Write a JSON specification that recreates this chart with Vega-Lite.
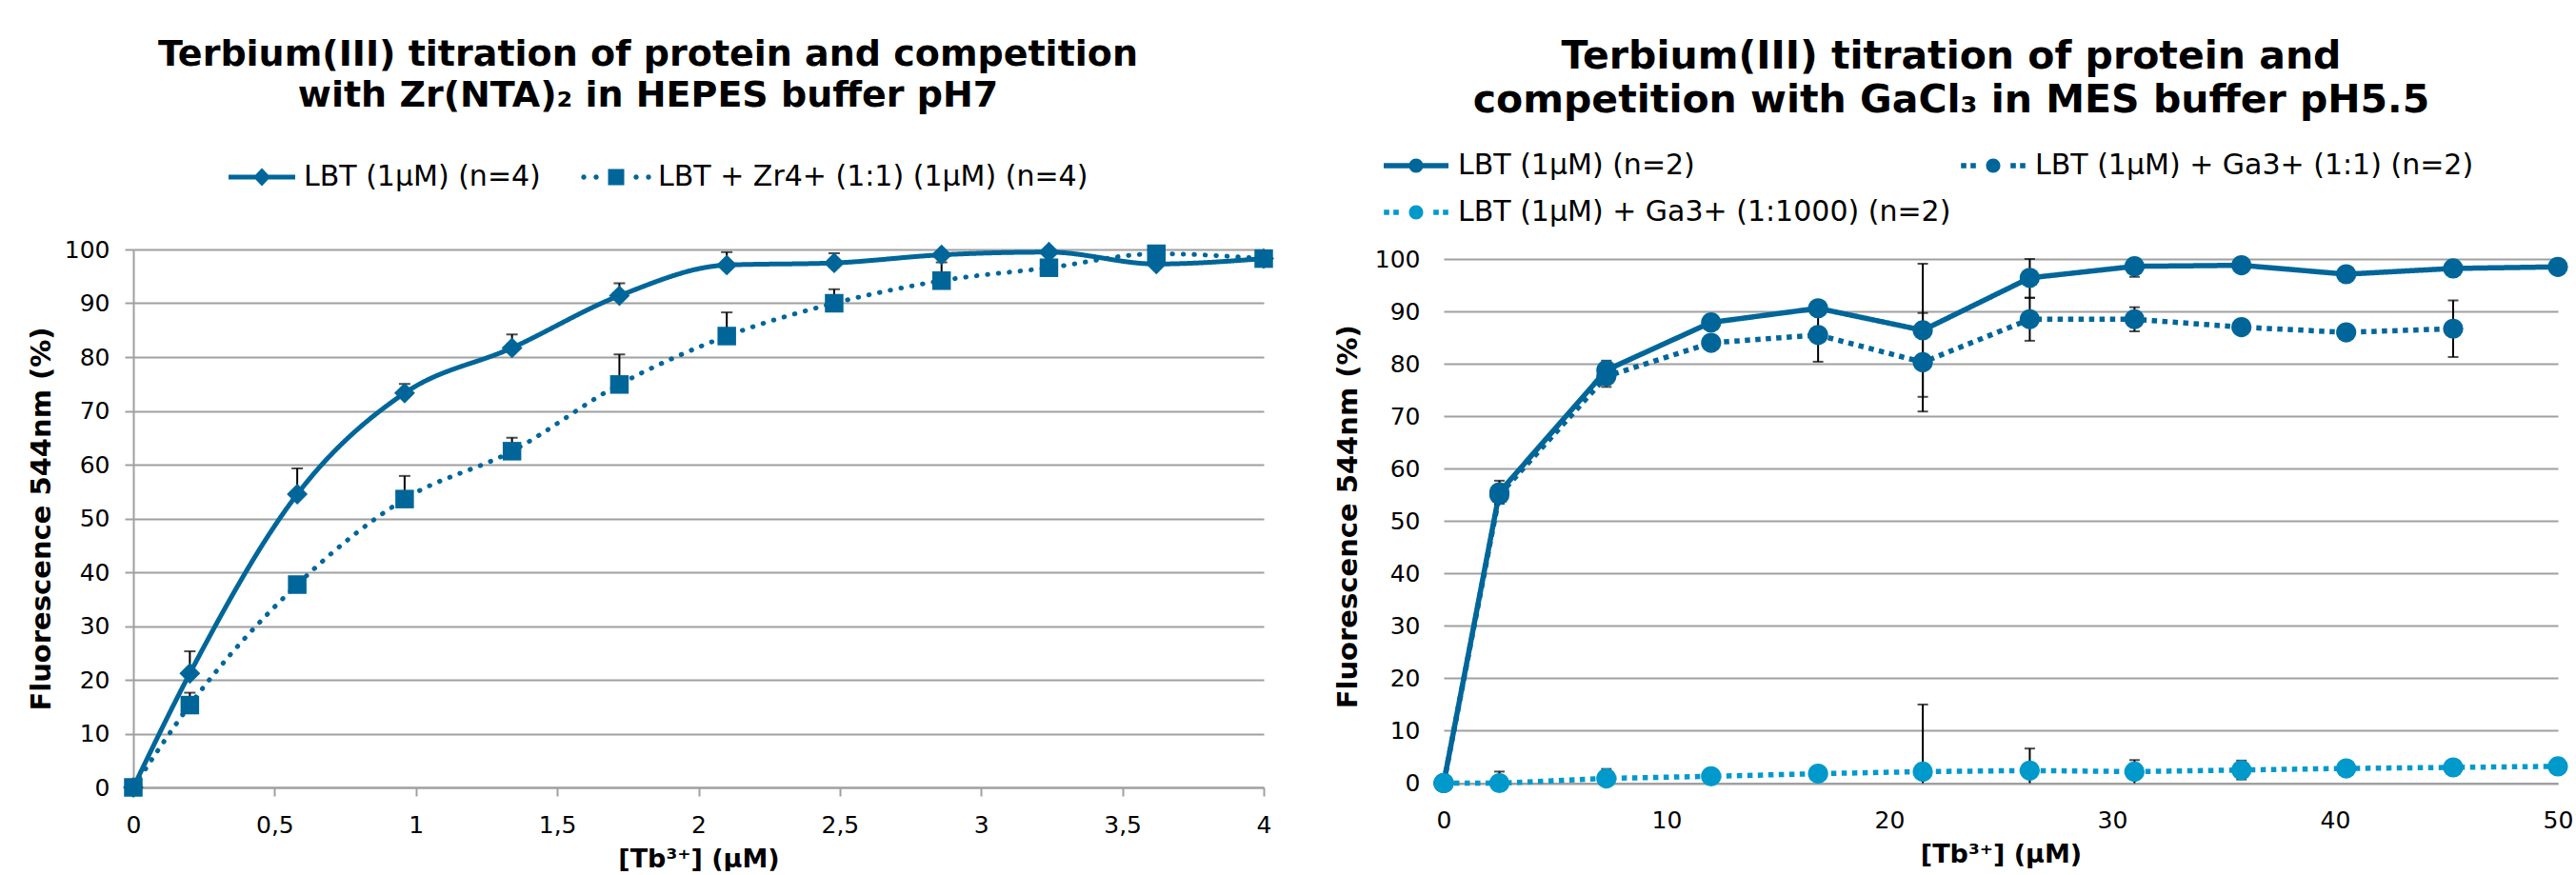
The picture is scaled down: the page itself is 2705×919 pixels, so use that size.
{
  "$schema": "https://vega.github.io/schema/vega-lite/v6.json",
  "background": "white",
  "padding": {"left": 29, "top": 39, "right": 0, "bottom": 0},
  "autosize": {"type": "pad"},
  "spacing": 63,
  "align": "none",
  "config": {
    "view": {"stroke": null},
    "font": "DejaVu Sans",
    "axis": {"labelFont": "DejaVu Sans", "titleFont": "DejaVu Sans", "labelColor": "#000", "titleColor": "#000", "labelFontSize": 25, "titleFontSize": 27, "titleFontWeight": "bold", "gridColor": "#a0a0a0", "gridWidth": 2, "domainColor": "#a0a0a0", "domainWidth": 2, "tickColor": "#a0a0a0", "tickWidth": 2, "labelFlush": false, "labelOverlap": false},
    "axisY": {"titleFontSize": 29},
    "legend": {"labelFont": "DejaVu Sans", "labelFontSize": 30, "labelColor": "#000", "padding": 0, "titlePadding": 0, "symbolOffset": 0, "labelLimit": 0},
    "title": {"font": "DejaVu Sans", "fontSize": 38, "fontWeight": "bold", "color": "#000", "lineHeight": 43, "anchor": "middle", "frame": "group"}
  },
  "resolve": {"scale": {"stroke": "independent", "fill": "independent", "strokeDash": "independent"}, "legend": {"stroke": "independent"}},
  "hconcat": [
    {
      "width": 1187,
      "height": 565,
      "title": {"text": ["Terbium(III) titration of protein and competition", "with Zr(NTA)₂ in HEPES buffer pH7"], "dx": -53, "offset": 51},
      "data": {"values": [
        {"x": 0, "y": 0, "s": "LBT (1µM) (n=4)"},
        {"x": 0.2, "y": 21.2, "hi": 25.3, "s": "LBT (1µM) (n=4)"},
        {"x": 0.58, "y": 54.5, "hi": 59.3, "s": "LBT (1µM) (n=4)"},
        {"x": 0.96, "y": 73.3, "hi": 75.0, "s": "LBT (1µM) (n=4)"},
        {"x": 1.34, "y": 81.7, "hi": 84.2, "s": "LBT (1µM) (n=4)"},
        {"x": 1.72, "y": 91.4, "hi": 93.7, "s": "LBT (1µM) (n=4)"},
        {"x": 2.1, "y": 97.1, "hi": 99.5, "s": "LBT (1µM) (n=4)"},
        {"x": 2.48, "y": 97.5, "hi": 99.3, "s": "LBT (1µM) (n=4)"},
        {"x": 2.86, "y": 99.0, "s": "LBT (1µM) (n=4)"},
        {"x": 3.24, "y": 99.5, "s": "LBT (1µM) (n=4)"},
        {"x": 3.62, "y": 97.3, "s": "LBT (1µM) (n=4)"},
        {"x": 4.0, "y": 98.3, "s": "LBT (1µM) (n=4)"},
        {"x": 0, "y": 0, "s": "LBT + Zr4+ (1:1) (1µM) (n=4)"},
        {"x": 0.2, "y": 15.3, "hi": 17.6, "s": "LBT + Zr4+ (1:1) (1µM) (n=4)"},
        {"x": 0.58, "y": 37.7, "s": "LBT + Zr4+ (1:1) (1µM) (n=4)"},
        {"x": 0.96, "y": 53.6, "hi": 57.9, "s": "LBT + Zr4+ (1:1) (1µM) (n=4)"},
        {"x": 1.34, "y": 62.5, "hi": 65.0, "s": "LBT + Zr4+ (1:1) (1µM) (n=4)"},
        {"x": 1.72, "y": 74.9, "hi": 80.5, "s": "LBT + Zr4+ (1:1) (1µM) (n=4)"},
        {"x": 2.1, "y": 83.9, "hi": 88.3, "s": "LBT + Zr4+ (1:1) (1µM) (n=4)"},
        {"x": 2.48, "y": 90.0, "hi": 92.6, "s": "LBT + Zr4+ (1:1) (1µM) (n=4)"},
        {"x": 2.86, "y": 94.2, "hi": 97.6, "s": "LBT + Zr4+ (1:1) (1µM) (n=4)"},
        {"x": 3.24, "y": 96.6, "s": "LBT + Zr4+ (1:1) (1µM) (n=4)"},
        {"x": 3.62, "y": 99.2, "s": "LBT + Zr4+ (1:1) (1µM) (n=4)"},
        {"x": 4.0, "y": 98.3, "s": "LBT + Zr4+ (1:1) (1µM) (n=4)"}
      ]},
      "encoding": {
        "x": {"field": "x", "type": "quantitative", "scale": {"domain": [0, 4], "nice": false, "zero": false},
          "axis": {"title": "[Tb³⁺] (µM)", "values": [0, 0.5, 1, 1.5, 2, 2.5, 3, 3.5, 4], "labelExpr": "replace(format(datum.value, '~g'), '.', ',')", "grid": false, "tickSize": 9, "labelPadding": 18, "titlePadding": 10}},
        "y": {"field": "y", "type": "quantitative", "scale": {"domain": [0, 100], "nice": false},
          "axis": {"title": "Fluorescence 544nm (%)", "values": [0, 10, 20, 30, 40, 50, 60, 70, 80, 90, 100], "grid": true, "tickSize": 9, "labelPadding": 16, "titlePadding": 9}}
      },
      "layer": [
        {
          "mark": {"type": "line", "interpolate": "monotone", "strokeWidth": 5, "strokeCap": "round"},
          "encoding": {
            "stroke": {"field": "s", "type": "nominal", "scale": {"domain": ["LBT (1µM) (n=4)", "LBT + Zr4+ (1:1) (1µM) (n=4)"], "range": ["#006699", "#006699"]},
              "legend": {"orient": "none", "legendX": 120, "legendY": -91, "direction": "horizontal", "title": null, "columnPadding": 42, "labelOffset": 29, "symbolSize": 400, "symbolStrokeWidth": 0,
                "encode": {"symbols": {"update": {
                  "shape": {"signal": "datum.index === 0 ? 'M-3.5,-0.25L3.5,-0.25L3.5,0.25L-3.5,0.25ZM0,-0.95L0.9,0L0,0.95L-0.9,0Z' : 'M-3.13,0A0.27,0.27,0,1,1,-3.67,0A0.27,0.27,0,1,1,-3.13,0ZM-1.83,0A0.27,0.27,0,1,1,-2.37,0A0.27,0.27,0,1,1,-1.83,0ZM2.37,0A0.27,0.27,0,1,1,1.83,0A0.27,0.27,0,1,1,2.37,0ZM3.67,0A0.27,0.27,0,1,1,3.13,0A0.27,0.27,0,1,1,3.67,0ZM-0.85,-0.85L0.85,-0.85L0.85,0.85L-0.85,0.85Z'"},
                  "fill": {"value": "#006699"},
                  "stroke": {"value": "transparent"},
                  "strokeWidth": {"value": 0},
                  "opacity": {"value": 1}
                }}}}},
            "strokeDash": {"field": "s", "type": "nominal", "scale": {"domain": ["LBT (1µM) (n=4)", "LBT + Zr4+ (1:1) (1µM) (n=4)"], "range": [[1, 0], [0.5, 11]]}, "legend": null}
          }
        },
        {
          "transform": [{"filter": "isValid(datum.hi)"}],
          "mark": {"type": "rule", "color": "#000", "strokeWidth": 2},
          "encoding": {"y2": {"field": "hi"}}
        },
        {
          "transform": [{"filter": "isValid(datum.hi)"}],
          "mark": {"type": "tick", "orient": "horizontal", "color": "#000", "thickness": 2, "size": 12},
          "encoding": {"y": {"field": "hi", "type": "quantitative", "title": "Fluorescence 544nm (%)"}}
        },
        {
          "transform": [{"filter": "datum.s === 'LBT (1µM) (n=4)'"}],
          "mark": {"type": "point", "shape": "diamond", "filled": true, "opacity": 1, "size": 480, "strokeWidth": 0, "color": "#006699"}
        },
        {
          "transform": [{"filter": "datum.s !== 'LBT (1µM) (n=4)'"}],
          "mark": {"type": "point", "shape": "square", "filled": true, "opacity": 1, "size": 380, "strokeWidth": 0, "color": "#006699"}
        }
      ]
    },
    {
      "width": 1170,
      "height": 560.5,
      "title": {"text": ["Terbium(III) titration of protein and", "competition with GaCl₃ in MES buffer pH5.5"], "dx": -52, "offset": 32, "fontSize": 41, "lineHeight": 46},
      "data": {"values": [
        {"x": 0, "y": 0, "s": "LBT (1µM) (n=2)"},
        {"x": 2.5, "y": 55.5, "lo": 53.3, "hi": 57.7, "s": "LBT (1µM) (n=2)"},
        {"x": 7.3, "y": 78.8, "lo": 77.0, "hi": 80.6, "s": "LBT (1µM) (n=2)"},
        {"x": 12.0, "y": 87.9, "s": "LBT (1µM) (n=2)"},
        {"x": 16.8, "y": 90.6, "s": "LBT (1µM) (n=2)"},
        {"x": 21.5, "y": 86.4, "lo": 73.7, "hi": 99.1, "s": "LBT (1µM) (n=2)"},
        {"x": 26.3, "y": 96.4, "lo": 92.6, "hi": 100, "s": "LBT (1µM) (n=2)"},
        {"x": 31.0, "y": 98.6, "lo": 96.6, "hi": 100, "s": "LBT (1µM) (n=2)"},
        {"x": 35.8, "y": 98.8, "s": "LBT (1µM) (n=2)"},
        {"x": 40.5, "y": 97.1, "s": "LBT (1µM) (n=2)"},
        {"x": 45.3, "y": 98.2, "s": "LBT (1µM) (n=2)"},
        {"x": 50.0, "y": 98.5, "s": "LBT (1µM) (n=2)"},
        {"x": 0, "y": 0, "s": "LBT (1µM) + Ga3+ (1:1) (n=2)"},
        {"x": 2.5, "y": 55.0, "s": "LBT (1µM) + Ga3+ (1:1) (n=2)"},
        {"x": 7.3, "y": 77.6, "lo": 75.6, "hi": 79.6, "s": "LBT (1µM) + Ga3+ (1:1) (n=2)"},
        {"x": 12.0, "y": 84.0, "s": "LBT (1µM) + Ga3+ (1:1) (n=2)"},
        {"x": 16.8, "y": 85.5, "lo": 80.4, "hi": 90.6, "s": "LBT (1µM) + Ga3+ (1:1) (n=2)"},
        {"x": 21.5, "y": 80.3, "lo": 70.9, "hi": 89.7, "s": "LBT (1µM) + Ga3+ (1:1) (n=2)"},
        {"x": 26.3, "y": 88.5, "lo": 84.4, "hi": 92.6, "s": "LBT (1µM) + Ga3+ (1:1) (n=2)"},
        {"x": 31.0, "y": 88.5, "lo": 86.2, "hi": 90.8, "s": "LBT (1µM) + Ga3+ (1:1) (n=2)"},
        {"x": 35.8, "y": 87.0, "s": "LBT (1µM) + Ga3+ (1:1) (n=2)"},
        {"x": 40.5, "y": 86.0, "s": "LBT (1µM) + Ga3+ (1:1) (n=2)"},
        {"x": 45.3, "y": 86.7, "lo": 81.3, "hi": 92.1, "s": "LBT (1µM) + Ga3+ (1:1) (n=2)"},
        {"x": 0, "y": 0, "s": "LBT (1µM) + Ga3+ (1:1000) (n=2)"},
        {"x": 2.5, "y": 0, "lo": 0, "hi": 2.2, "s": "LBT (1µM) + Ga3+ (1:1000) (n=2)"},
        {"x": 7.3, "y": 0.9, "lo": 0, "hi": 2.7, "s": "LBT (1µM) + Ga3+ (1:1000) (n=2)"},
        {"x": 12.0, "y": 1.3, "s": "LBT (1µM) + Ga3+ (1:1000) (n=2)"},
        {"x": 16.8, "y": 1.8, "s": "LBT (1µM) + Ga3+ (1:1000) (n=2)"},
        {"x": 21.5, "y": 2.2, "lo": 0, "hi": 15.0, "s": "LBT (1µM) + Ga3+ (1:1000) (n=2)"},
        {"x": 26.3, "y": 2.4, "lo": 0, "hi": 6.6, "s": "LBT (1µM) + Ga3+ (1:1000) (n=2)"},
        {"x": 31.0, "y": 2.2, "lo": 0.0, "hi": 4.4, "s": "LBT (1µM) + Ga3+ (1:1000) (n=2)"},
        {"x": 35.8, "y": 2.5, "lo": 0.7, "hi": 4.3, "s": "LBT (1µM) + Ga3+ (1:1000) (n=2)"},
        {"x": 40.5, "y": 2.8, "s": "LBT (1µM) + Ga3+ (1:1000) (n=2)"},
        {"x": 45.3, "y": 3.0, "s": "LBT (1µM) + Ga3+ (1:1000) (n=2)"},
        {"x": 50.0, "y": 3.2, "s": "LBT (1µM) + Ga3+ (1:1000) (n=2)"}
      ]},
      "encoding": {
        "x": {"field": "x", "type": "quantitative", "scale": {"domain": [0, 50], "nice": false},
          "axis": {"title": "[Tb³⁺] (µM)", "values": [0, 10, 20, 30, 40, 50], "grid": false, "ticks": false, "labelPadding": 27, "titlePadding": 10}},
        "y": {"field": "y", "type": "quantitative", "scale": {"domain": [0, 101.82], "nice": false},
          "axis": {"title": "Fluorescence 544nm (%)", "values": [0, 10, 20, 30, 40, 50, 60, 70, 80, 90, 100], "grid": true, "ticks": false, "domain": false, "labelPadding": 25, "titlePadding": 13}}
      },
      "layer": [
        {
          "mark": {"type": "line", "strokeWidth": 5.5, "strokeCap": "butt"},
          "encoding": {
            "stroke": {"field": "s", "type": "nominal", "scale": {"domain": ["LBT (1µM) (n=2)", "LBT (1µM) + Ga3+ (1:1) (n=2)", "LBT (1µM) + Ga3+ (1:1000) (n=2)"], "range": ["#006699", "#006699", "#0099cc"]},
              "legend": {"orient": "none", "legendX": -44, "legendY": -103, "direction": "horizontal", "columns": 2, "title": null, "columnPadding": 10, "rowPadding": 19, "labelOffset": 29, "symbolSize": 400, "symbolStrokeWidth": 0,
                "encode": {"symbols": {"update": {
                  "shape": {"signal": "datum.index === 0 ? 'M-3.4,-0.28L3.4,-0.28L3.4,0.28L-3.4,0.28ZM0.75,0A0.75,0.75,0,1,1,-0.75,0A0.75,0.75,0,1,1,0.75,0Z' : 'M-3.38,-0.28L-2.82,-0.28L-2.82,0.28L-3.38,0.28ZM-2.38,-0.28L-1.82,-0.28L-1.82,0.28L-2.38,0.28ZM1.82,-0.28L2.38,-0.28L2.38,0.28L1.82,0.28ZM2.82,-0.28L3.38,-0.28L3.38,0.28L2.82,0.28ZM0.75,0A0.75,0.75,0,1,1,-0.75,0A0.75,0.75,0,1,1,0.75,0Z'"},
                  "fill": {"signal": "datum.index === 2 ? '#0099cc' : '#006699'"},
                  "stroke": {"value": "transparent"},
                  "strokeWidth": {"value": 0},
                  "opacity": {"value": 1}
                }}}}},
            "strokeDash": {"field": "s", "type": "nominal", "scale": {"domain": ["LBT (1µM) (n=2)", "LBT (1µM) + Ga3+ (1:1) (n=2)", "LBT (1µM) + Ga3+ (1:1000) (n=2)"], "range": [[1, 0], [5.5, 5.5], [5.5, 5.5]]}, "legend": null}
          }
        },
        {
          "transform": [{"filter": "isValid(datum.hi)"}],
          "mark": {"type": "rule", "color": "#000", "strokeWidth": 2},
          "encoding": {"y": {"field": "lo", "type": "quantitative", "title": "Fluorescence 544nm (%)"}, "y2": {"field": "hi"}}
        },
        {
          "transform": [{"filter": "isValid(datum.hi)"}],
          "mark": {"type": "tick", "orient": "horizontal", "color": "#000", "thickness": 2, "size": 11},
          "encoding": {"y": {"field": "hi", "type": "quantitative", "title": "Fluorescence 544nm (%)"}}
        },
        {
          "transform": [{"filter": "isValid(datum.lo) && datum.lo > 0"}],
          "mark": {"type": "tick", "orient": "horizontal", "color": "#000", "thickness": 2, "size": 11},
          "encoding": {"y": {"field": "lo", "type": "quantitative", "title": "Fluorescence 544nm (%)"}}
        },
        {
          "mark": {"type": "point", "filled": true, "opacity": 1, "size": 450, "strokeWidth": 0, "shape": "circle"},
          "encoding": {
            "fill": {"field": "s", "type": "nominal", "scale": {"domain": ["LBT (1µM) (n=2)", "LBT (1µM) + Ga3+ (1:1) (n=2)", "LBT (1µM) + Ga3+ (1:1000) (n=2)"], "range": ["#006699", "#006699", "#0099cc"]}, "legend": null}
          }
        }
      ]
    }
  ]
}
